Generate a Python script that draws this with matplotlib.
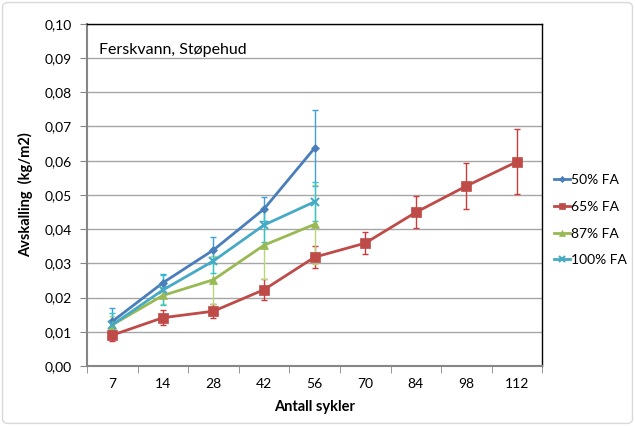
import matplotlib
matplotlib.use("Agg")
import matplotlib.pyplot as plt
from matplotlib.patches import FancyBboxPatch
import numpy as np

# Cycle counts (category axis)
cycles = ["7", "14", "28", "42", "56", "70", "84", "98", "112"]

# Scaling (kg/m2) per mix, with standard deviations
fa50 = [0.0130, 0.0243, 0.0339, 0.0459, 0.0637]
fa50_err = [0.0040, 0.0025, 0.0037, 0.0034, 0.0110]

fa65 = [0.0090, 0.0141, 0.0160, 0.0223, 0.0318, 0.0359, 0.0449, 0.0526, 0.0597]
fa65_err = [0.0016, 0.0022, 0.0021, 0.0030, 0.0033, 0.0033, 0.0047, 0.0066, 0.0095]

fa87 = [0.0120, 0.0206, 0.0252, 0.0353, 0.0414]
fa87_err = [0.0025, 0.0025, 0.0070, 0.0100, 0.0115]

fa100 = [0.0120, 0.0222, 0.0307, 0.0412, 0.0480]
fa100_err = [0.0035, 0.0045, 0.0035, 0.0050, 0.0057]

series = [
    ("50% FA", fa50, fa50_err, "#4A7EBB", "#3FA0DC", "D", 4.5),
    ("65% FA", fa65, fa65_err, "#BE4B48", "#D03A3A", "s", 7),
    ("87% FA", fa87, fa87_err, "#98B954", "#B5D77A", "^", 6),
    ("100% FA", fa100, fa100_err, "#46AAC5", "#2EC4D0", "x", 6),
]

plt.rcParams["font.family"] = ["Lato", "DejaVu Sans"]

fig = plt.figure(figsize=(6.35, 4.26), dpi=100)
fig.patch.set_facecolor("white")
fig.patches.append(FancyBboxPatch((0.004, 0.006), 0.992, 0.988,
                                  boxstyle="round,pad=0,rounding_size=0.01",
                                  transform=fig.transFigure, fill=False,
                                  edgecolor="#D9D9D9", linewidth=1.0))

ax = fig.add_axes([0.137, 0.141, 0.717, 0.803])
x = np.arange(len(cycles))

for label, vals, errs, color, ecolor, marker, ms in series:
    xi = x[:len(vals)]
    ax.errorbar(xi, vals, yerr=errs, fmt="none", ecolor=ecolor,
                elinewidth=1.0, capsize=2.5, capthick=1.0, zorder=2)
    ax.plot(xi, vals, color=color, linewidth=2.0, marker=marker,
            markersize=ms, markeredgewidth=1.5 if marker == "x" else 0.5,
            markeredgecolor=color, markerfacecolor=color,
            label=label, zorder=3)

ax.set_xlim(-0.5, len(cycles) - 0.5)
ax.set_ylim(0, 0.10)
yt = np.arange(0, 0.1001, 0.01)
ax.set_yticks(yt)
ax.set_yticklabels([f"{v:.2f}".replace(".", ",") for v in yt], fontsize=10)
ax.set_xticks(x)
ax.set_xticklabels(cycles, fontsize=10)
ax.set_xticks(np.arange(-0.5, len(cycles), 1), minor=True)
ax.tick_params(axis="x", which="major", length=0, pad=9)
ax.tick_params(axis="x", which="minor", length=5, color="#868686")
ax.tick_params(axis="y", length=5, color="#868686", pad=6)

ax.yaxis.grid(True, color="#A6A6A6", linewidth=1.0)
ax.set_axisbelow(True)
for side in ("top", "right"):
    ax.spines[side].set_color("black")
    ax.spines[side].set_linewidth(1.0)
for side in ("left", "bottom"):
    ax.spines[side].set_color("#868686")
    ax.spines[side].set_linewidth(1.5)

ax.set_xlabel("Antall sykler", fontsize=10.5, fontweight="bold", labelpad=7)
ax.set_ylabel("Avskalling  (kg/m2)", fontsize=10.5, fontweight="bold", labelpad=8)

ax.text(0.027, 0.945, "Ferskvann, Støpehud", transform=ax.transAxes,
        fontsize=11.5, va="top", ha="left")

leg = ax.legend(loc="center left", bbox_to_anchor=(1.005, 0.426), frameon=False,
                fontsize=10, handlelength=1.1, handletextpad=0.1,
                labelspacing=1.05, markerscale=0.7, borderaxespad=0.3)

fig.savefig("out.png", dpi=100)
